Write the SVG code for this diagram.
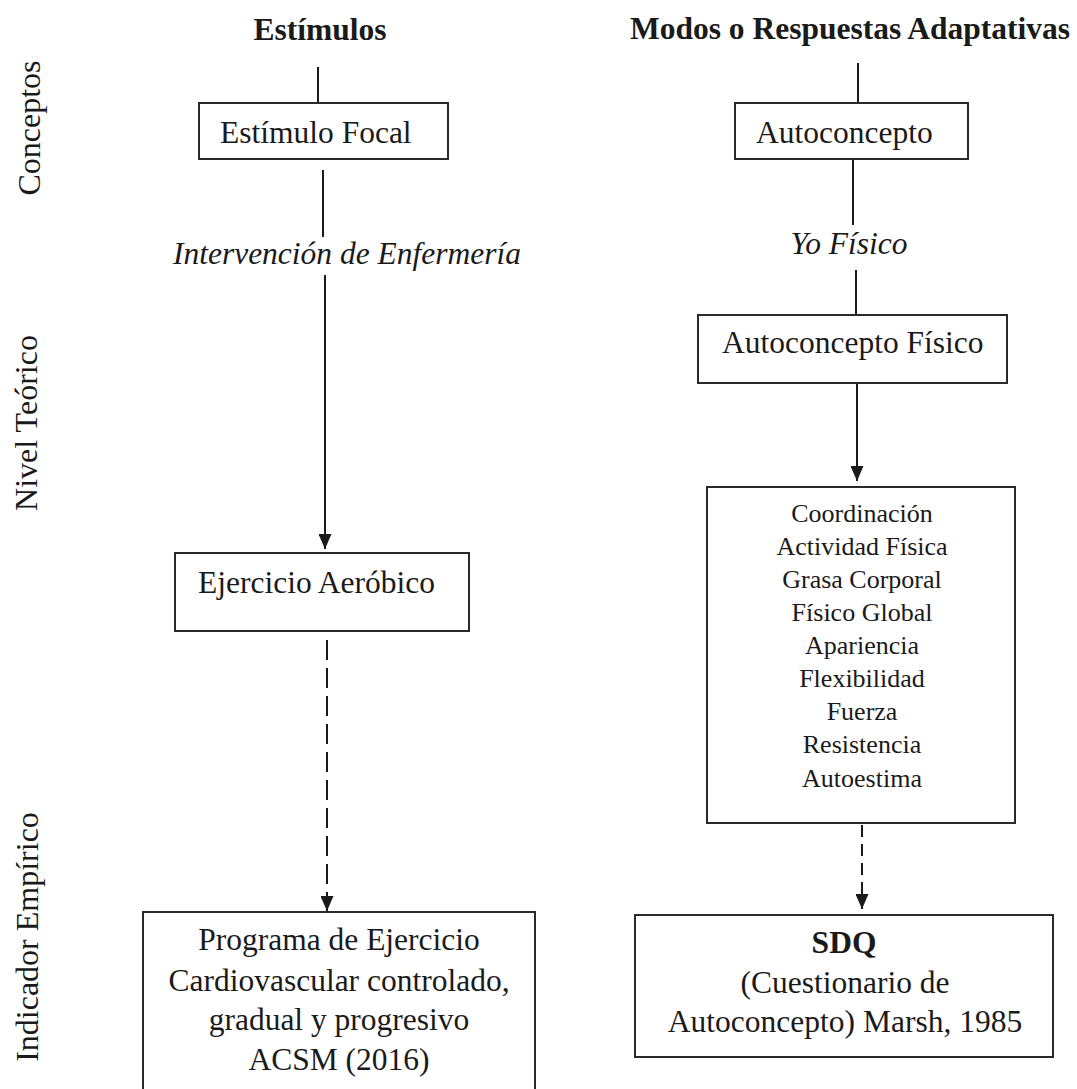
<svg xmlns="http://www.w3.org/2000/svg" width="1077" height="1089" viewBox="0 0 1077 1089">
<style>
text{font-family:"Liberation Serif","Times New Roman",serif;fill:#1a1a1a}
.t{font-size:31.5px}
.b{font-size:31.5px;font-weight:bold}
.i{font-size:31.5px;font-style:italic}
.s{font-size:26px}
.v{font-size:32px}
.box{fill:#fff;stroke:#2a2a2a;stroke-width:2}
.ln{stroke:#1a1a1a;stroke-width:2;fill:none}
.d1{stroke-dasharray:20 8}
.d2{stroke-dasharray:12 7}
</style>
<defs>
<marker id="ah" viewBox="0 0 10 10" refX="10" refY="5" markerWidth="15" markerHeight="13" markerUnits="userSpaceOnUse" orient="auto" preserveAspectRatio="none">
<path d="M0,0 L10,5 L0,10 z" fill="#1a1a1a"/>
</marker>
</defs>
<rect width="1077" height="1089" fill="#fff"/>
<g id="row-labels">
<text class="v" text-anchor="middle" transform="translate(40,128) rotate(-90)">Conceptos</text>
<text class="v" text-anchor="middle" transform="translate(37,423) rotate(-90)">Nivel Teórico</text>
<text class="v" text-anchor="middle" transform="translate(38,937) rotate(-90)">Indicador Empírico</text>
</g>
<g id="headers">
<text class="b" x="320" y="40" text-anchor="middle">Estímulos</text>
<text class="b" x="850" y="39" text-anchor="middle">Modos o Respuestas Adaptativas</text>
</g>
<g id="connectors">
<line class="ln" x1="318" y1="67" x2="318" y2="103"/>
<line class="ln" x1="323" y1="170" x2="323" y2="237"/>
<line class="ln" x1="325" y1="275" x2="325" y2="549" marker-end="url(#ah)"/>
<line class="ln d1" x1="327" y1="640" x2="327" y2="911" marker-end="url(#ah)"/>
<line class="ln" x1="858" y1="63" x2="858" y2="103"/>
<line class="ln" x1="853" y1="159" x2="853" y2="225"/>
<line class="ln" x1="856" y1="270" x2="856" y2="315"/>
<line class="ln" x1="857" y1="383" x2="857" y2="481" marker-end="url(#ah)"/>
<line class="ln d2" x1="862" y1="825" x2="862" y2="909" marker-end="url(#ah)"/>
</g>
<g id="label-intervencion">
<text class="i" x="347" y="264" text-anchor="middle">Intervención de Enfermería</text>
</g>
<g id="label-yofisico">
<text class="i" x="849" y="254" text-anchor="middle">Yo Físico</text>
</g>
<g id="estimulo-focal">
<rect class="box" x="199" y="103" width="249" height="56"/>
<text class="t" x="220" y="143">Estímulo Focal</text>
</g>
<g id="ejercicio-aerobico">
<rect class="box" x="175" y="553" width="294" height="78"/>
<text class="t" x="198" y="593">Ejercicio Aeróbico</text>
</g>
<g id="programa">
<rect class="box" x="143" y="912" width="392" height="200"/>
<text class="t" x="339" y="950" text-anchor="middle">Programa de Ejercicio</text>
<text class="t" x="339" y="991" text-anchor="middle">Cardiovascular controlado,</text>
<text class="t" x="339" y="1030" text-anchor="middle">gradual y progresivo</text>
<text class="t" x="339" y="1070" text-anchor="middle">ACSM (2016)</text>
</g>
<g id="autoconcepto">
<rect class="box" x="735" y="103" width="233" height="56"/>
<text class="t" x="756" y="143">Autoconcepto</text>
</g>
<g id="autoconcepto-fisico">
<rect class="box" x="698" y="315" width="309" height="68"/>
<text class="t" x="722" y="353">Autoconcepto Físico</text>
</g>
<g id="dimensiones">
<rect class="box" x="707" y="487" width="308" height="336"/>
<text class="s" x="862" y="522" text-anchor="middle">Coordinación</text>
<text class="s" x="862" y="555" text-anchor="middle">Actividad Física</text>
<text class="s" x="862" y="588" text-anchor="middle">Grasa Corporal</text>
<text class="s" x="862" y="621" text-anchor="middle">Físico Global</text>
<text class="s" x="862" y="654" text-anchor="middle">Apariencia</text>
<text class="s" x="862" y="687" text-anchor="middle">Flexibilidad</text>
<text class="s" x="862" y="720" text-anchor="middle">Fuerza</text>
<text class="s" x="862" y="753" text-anchor="middle">Resistencia</text>
<text class="s" x="862" y="787" text-anchor="middle">Autoestima</text>
</g>
<g id="sdq">
<rect class="box" x="635" y="915" width="418" height="142"/>
<text class="b" x="844" y="953" text-anchor="middle">SDQ</text>
<text class="t" x="845" y="993" text-anchor="middle">(Cuestionario de</text>
<text class="t" x="845" y="1032" text-anchor="middle">Autoconcepto) Marsh, 1985</text>
</g>
</svg>
